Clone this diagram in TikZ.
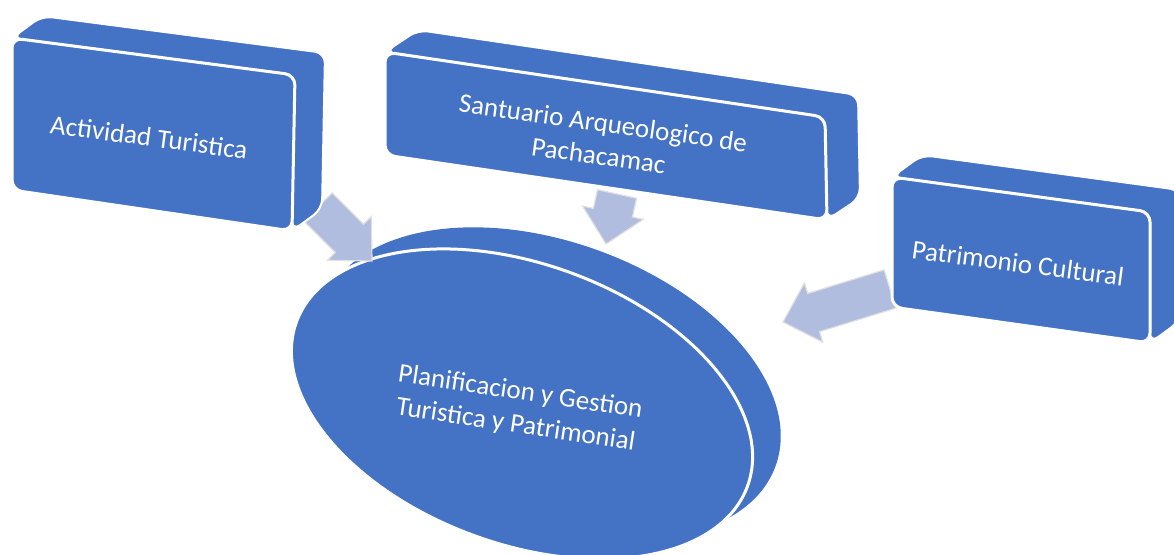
\documentclass[tikz,border=0pt]{standalone}
\usepackage{fontspec}
\setmainfont{Carlito}
\usetikzlibrary{calc}
\definecolor{boxblue}{HTML}{4472C4}
\definecolor{arrowblue}{HTML}{B0BDDF}
\tikzset{
  front/.style={fill=boxblue, draw=white, line width=3pt, rounded corners=10pt},
  extrude/.style={fill=boxblue, draw=white, line width=2pt, rounded corners=10pt},
  boxtext/.style={text=white, font=\fontsize{27}{33}\selectfont, align=center},
  fatarrow/.style={fill=arrowblue, draw=white!88!black, line width=1.2pt, to path={
    ($(\tikztostart)!20pt!90:(\tikztotarget)$)
    -- ($($(\tikztotarget)!32pt!(\tikztostart)$)!20pt!90:(\tikztotarget)$)
    -- ($($(\tikztotarget)!32pt!(\tikztostart)$)!31pt!90:(\tikztotarget)$)
    -- (\tikztotarget)
    -- ($($(\tikztotarget)!32pt!(\tikztostart)$)!31pt!-90:(\tikztotarget)$)
    -- ($($(\tikztotarget)!32pt!(\tikztostart)$)!20pt!-90:(\tikztotarget)$)
    -- ($(\tikztostart)!20pt!-90:(\tikztotarget)$) -- cycle}}
}
\begin{document}
\begin{tikzpicture}[x=1pt, y=-1pt]
  \useasboundingbox (0,0) rectangle (1174,554);
  % disk
  \fill[boxblue, shift={(550,384)}, rotate=-20] (0,0) ellipse [x radius=240, y radius=142];
  \draw[front, shift={(522,404)}, rotate=-20] (0,0) ellipse [x radius=240, y radius=140];
  \node[boxtext, rotate=-8.5] (plan) at (518,409) {Planificacion y Gestion\\Turistica y Patrimonial};
  % arrows
  \coordinate (a1) at (318,207);  \coordinate (b1) at (372,261);
  \coordinate (a2) at (617,194);  \coordinate (b2) at (606,244);
  \coordinate (a3) at (890,289);  \coordinate (b3) at (783,322);
  \filldraw[fatarrow] (a1) to (b1);
  \filldraw[fatarrow] (a2) to (b2);
  \filldraw[fatarrow] (a3) to (b3);
  % boxes
  \draw[extrude] (12,38) -- (42,16) -- (325,53) -- (322,209) -- (292,231) -- (295,75) -- cycle;
  \draw[front] (12,38) -- (295,75) -- (292,231) -- (12,190) -- cycle;
  \node[boxtext, rotate=-7.5] (act) at (149,137) {Actividad Turistica};
  \draw[extrude] (385,52) -- (418,30) -- (858,95) -- (860,198) -- (827,220) -- (825,117) -- cycle;
  \draw[front] (385,52) -- (825,117) -- (827,220) -- (385,155) -- cycle;
  \node[boxtext, rotate=-8] (san) at (601,139) {Santuario Arqueologico de\\Pachacamac};
  \draw[extrude] (892,177) -- (922,155) -- (1180,190) -- (1180,321) -- (1150,343) -- (1150,212) -- cycle;
  \draw[front] (892,177) -- (1150,212) -- (1150,343) -- (892,307) -- cycle;
  \node[boxtext, rotate=-7.5] (pat) at (1018,263) {Patrimonio Cultural};
\end{tikzpicture}
\end{document}
